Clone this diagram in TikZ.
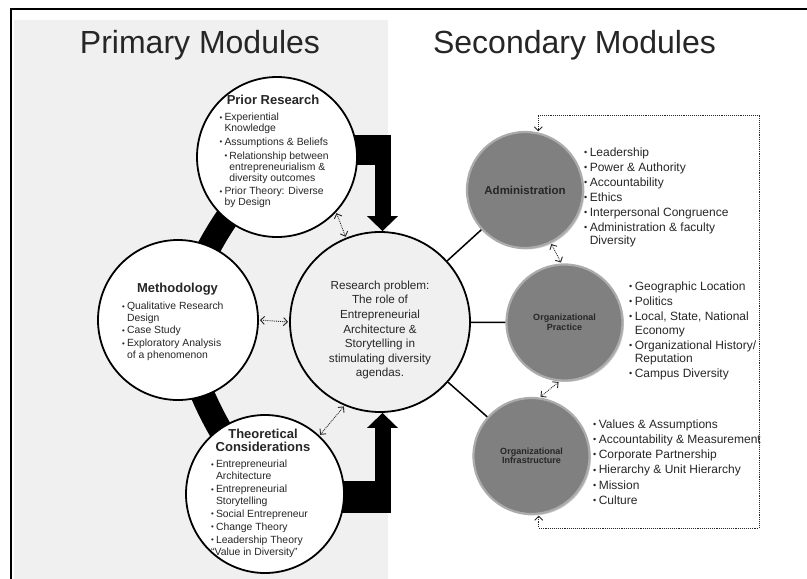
\documentclass[tikz,border=0pt]{standalone}
\usepackage{fontspec}
\setmainfont{Liberation Sans}
\usepackage{graphicx}
\usetikzlibrary{arrows.meta,shadows,backgrounds}
\newcommand{\itm}{\raisebox{.06em}{\scalebox{.75}{\textbullet}}\kern.2em}
\newcommand{\cont}{\hphantom{\itm}}
\begin{document}
\begin{tikzpicture}[x=1pt,y=1pt]
        \tikzstyle{primary}=[circle,draw=black,line width=1.8pt,fill=white,inner sep=0pt]
        \tikzstyle{problem}=[circle,draw=black,line width=1.8pt,fill=black!6,minimum size=180pt,inner sep=0pt]
        \tikzstyle{secondary}=[circle,draw=black!33,line width=2.2pt,fill=black!50,minimum size=116pt,inner sep=0pt,text=black!85,align=center,font=\bfseries,drop shadow={opacity=.35,shadow xshift=1.5pt,shadow yshift=-1.5pt}]
        \tikzstyle{heading}=[font=\fontsize{32}{32}\selectfont,text=black!85,anchor=base,inner sep=0pt]
        \tikzstyle{ttl}=[font=\bfseries\fontsize{13}{13.4}\selectfont,text=black!85,align=center,anchor=north,inner sep=0pt]
        \tikzstyle{ptext}=[font=\fontsize{10.4}{11}\selectfont,text=black!85,align=left,anchor=north west,inner sep=0pt]
        \tikzstyle{stext}=[font=\fontsize{12}{12.5}\selectfont,text=black!85,align=left,anchor=north west,inner sep=0pt]
        \tikzstyle{ring}=[draw=black,line width=24pt]
        \tikzstyle{band}=[draw=black,line width=30pt]
        \tikzstyle{shaft}=[draw=black,line width=16pt,-{Triangle[width=30pt,length=15pt]}]
        \tikzstyle{link}=[draw=black,line width=1.5pt]
        \tikzstyle{dotarrow}=[draw=black!85,densely dotted,line width=.9pt,{Straight Barb[length=4pt,width=8pt]}-{Straight Barb[length=4pt,width=8pt]},shorten <=1pt,shorten >=1pt]
        \useasboundingbox (0,0) rectangle (807,-579);
        \draw[line width=2pt] (11,-579) |- (807,-9);
        \begin{scope}
                \node [heading] (h1) at (200,-53.3) {Primary Modules};
                \node [heading] (h2) at (574.5,-53.3) {Secondary Modules};
                \node [primary,minimum size=160pt] (m1) at (277,-157) {};
                \node [primary,minimum size=160pt] (m2) at (178,-320) {};
                \node [primary,minimum size=158pt] (m3) at (265,-494) {};
                \node [problem] (rp) at (380,-322) {};
                \node [secondary,font=\bfseries\fontsize{11.5}{11.5}\selectfont] (s1) at (525,-190) {Administration};
                \node [secondary,font=\bfseries\fontsize{9}{9.5}\selectfont] (s2) at (564.5,-322.5) {Organizational\\Practice};
                \node [secondary,font=\bfseries\fontsize{9}{9.5}\selectfont] (s3) at (531.5,-456) {Organizational\\Infrastructure};
                \coordinate (c1) at (382.5,-150);
                \coordinate (c2) at (382.5,-496.5);
                \coordinate (q1) at (759,-115);
                \coordinate (q2) at (759,-528);
                \node [ttl] (t1) at (273,-95) {Prior Research};
                \node [ptext] (l1) at (219.5,-112.9) {\itm Experiential\\\cont Knowledge\\[2.7pt]\itm Assumptions \& Beliefs\\[2.7pt]\cont\itm Relationship between\\\cont\cont entrepreneurialism \&\\\cont\cont diversity outcomes\\[2.7pt]\itm Prior Theory: Diverse\\\cont by Design};
                \node [ttl] (t2) at (177.5,-283.3) {Methodology};
                \node [ptext,font=\fontsize{10.4}{11.4}\selectfont] (l2) at (122,-301.9) {\itm Qualitative Research\\\cont Design\\[1.5pt]\itm Case Study\\[1.5pt]\itm Exploratory Analysis\\\cont of a phenomenon};
                \node [ttl] (t3) at (263,-428.5) {Theoretical\\Considerations};
                \node [ptext,font=\fontsize{10.4}{12}\selectfont] (l3) at (211,-460) {\itm Entrepreneurial\\\cont Architecture\\[.9pt]\itm Entrepreneurial\\\cont Storytelling\\[.9pt]\itm Social Entrepreneur\\[.9pt]\itm Change Theory\\[.9pt]\itm Leadership Theory\\“Value in Diversity”};
                \node [font=\fontsize{11.7}{14.6}\selectfont,text=black!85,align=center] (rpt) at (380,-330) {Research problem:\\The role of\\Entrepreneurial\\Architecture \&\\Storytelling in\\stimulating diversity\\agendas.};
                \node [stext] (l4) at (584,-147.7) {\itm Leadership\\[2.5pt]\itm Power \& Authority\\[2.5pt]\itm Accountability\\[2.5pt]\itm Ethics\\[2.5pt]\itm Interpersonal Congruence\\[2.5pt]\itm Administration \& faculty\\\cont Diversity};
                \node [stext,font=\fontsize{12}{13.5}\selectfont] (l5) at (629,-281.7) {\itm Geographic Location\\[1.5pt]\itm Politics\\[1.5pt]\itm Local, State, National\\\cont Economy\\[1.5pt]\itm Organizational History/\\\cont Reputation\\[1.5pt]\itm Campus Diversity};
                \node [stext,font=\fontsize{12}{15.2}\selectfont] (l6) at (593,-419.3) {\itm Values \& Assumptions\\\itm Accountability \& Measurement\\\itm Corporate Partnership\\\itm Hierarchy \& Unit Hierarchy\\\itm Mission\\\itm Culture};
                \begin{pgfonlayer}{background}
                        \fill[black!6] (14,-20) rectangle (388,-579);
                        \path[ring] (m1.center) to[bend right=12] (m2.center);
                        \path[ring] (m2.center) to[bend right=12] (m3.center);
                        \path[band] ([yshift=7pt]m1.center) -- ([xshift=8pt]c1);
                        \path[band,line width=32pt] ([yshift=-2.5pt]m3.center) -- ([xshift=8pt]c2);
                        \path[shaft] (c1) -- (c1 |- rp.north);
                        \path[shaft] (c2) -- (c2 |- rp.south);
                \end{pgfonlayer}
                \path[link] (rp) edge (s1) (rp) edge (s2) (rp) edge (s3);
                \path[dotarrow] (m1.-43) -- (rp.112);
                \path[dotarrow] (m2.east) -- (rp.west);
                \path[dotarrow] (m3.47) -- (rp.247);
                \path[dotarrow] (s1.-64) -- (s2.93);
                \path[dotarrow] (s2.-95) -- (s3.82);
                \path[dotarrow] (s1.77) |- (q1) -- (q2) -| (s3.-83);
        \end{scope}
\end{tikzpicture}
\end{document}
